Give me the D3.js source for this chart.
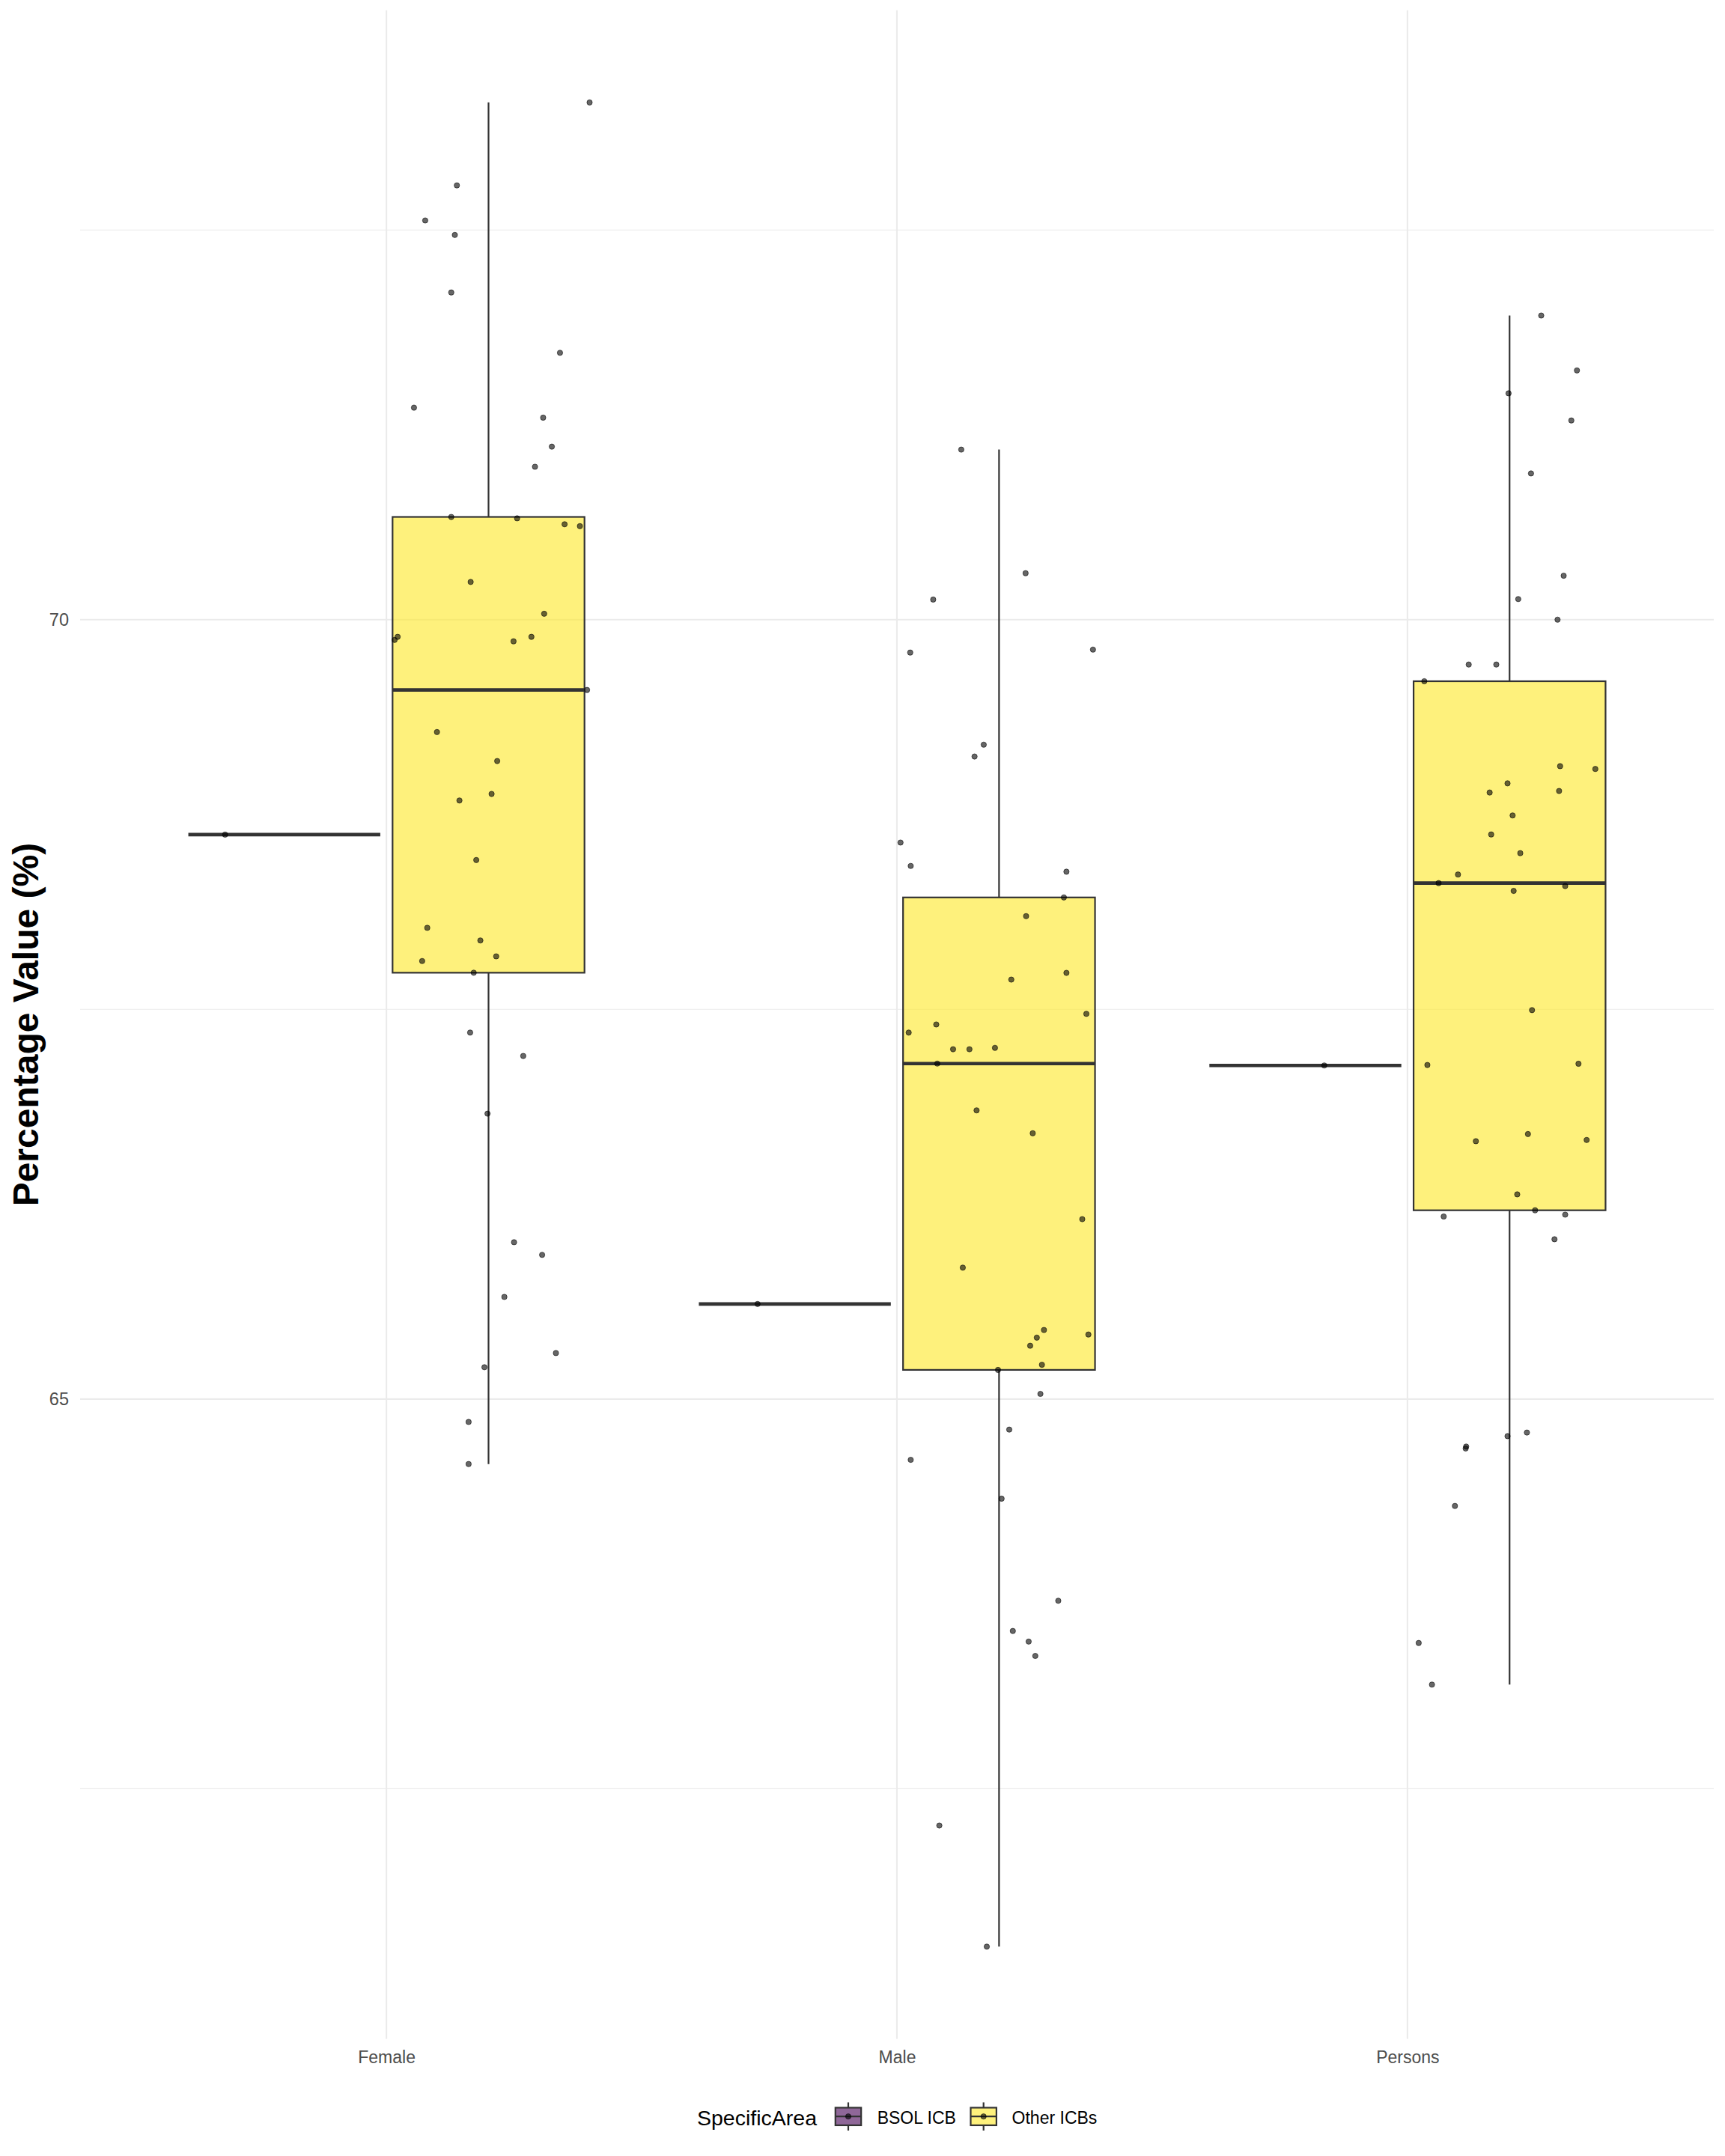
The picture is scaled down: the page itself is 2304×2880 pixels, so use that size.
<!DOCTYPE html>
<html>
<head>
<meta charset="utf-8">
<script src="https://cdn.jsdelivr.net/npm/d3@7"></script>
<style>
  html, body { margin: 0; padding: 0; background: #ffffff; }
  svg { display: block; }
</style>
</head>
<body>
<script>
// ---------------- DATA ----------------
const categories = ["Female", "Male", "Persons"];
const groups = ["BSOL ICB", "Other ICBs"];
const groupColors = ["#440154", "#FDE725"];
const yTicks = [65, 70];
const yMinorTicks = [62.5, 67.5, 72.5];

// BSOL ICB (one value per category) and its jitter offset (category units)
const bsolValues = [68.621, 65.610, 67.140];
const bsolJitter = [-0.116, -0.073, 0.037];

// Other ICBs
const femaleOther = [73.318, 72.786, 72.561, 72.468, 72.099, 71.712, 71.360, 71.296, 71.110, 70.981,
  70.659, 70.650, 70.612, 70.600, 70.242, 70.038, 69.890, 69.870, 69.861, 69.890,
  69.549, 69.279, 69.093, 68.882, 68.840, 68.458, 68.023, 67.942, 67.840, 67.810,
  67.735, 67.351, 67.201, 66.831, 66.006, 65.925, 65.655, 65.295, 65.204, 64.853, 64.583];
const femaleOtherJitter = [0.198, -0.062, -0.124, -0.066, -0.073, 0.140, -0.146, 0.107, 0.124, 0.091,
  -0.073, 0.056, 0.149, 0.179, -0.035, 0.109, -0.178, -0.184, 0.049, 0.084,
  0.193, -0.101, 0.017, 0.006, -0.057, -0.024, -0.120, -0.016, 0.015, -0.130,
  -0.029, -0.036, 0.068, -0.002, 0.050, 0.105, 0.031, 0.132, -0.008, -0.039, -0.039];

const maleOther = [71.091, 70.298, 70.129, 69.789, 69.808, 69.198, 69.122, 68.570, 68.420, 68.383,
  68.218, 68.098, 67.734, 67.691, 67.471, 67.403, 67.351, 67.244, 67.244, 67.253,
  67.152, 66.852, 66.705, 66.154, 65.843, 65.443, 65.414, 65.394, 65.342, 65.220,
  65.187, 65.033, 64.804, 64.610, 64.361, 63.706, 63.512, 63.444, 63.352, 62.264, 61.487];
const maleOtherJitter = [-0.074, 0.052, -0.129, -0.174, 0.184, -0.030, -0.048, -0.193, -0.173, 0.132,
  0.127, 0.053, 0.132, 0.024, 0.171, -0.123, -0.177, -0.090, -0.058, -0.008,
  -0.121, -0.044, 0.066, 0.163, -0.071, 0.088, 0.175, 0.074, 0.061, 0.084,
  -0.002, 0.081, 0.020, -0.173, 0.005, 0.116, 0.027, 0.058, 0.071, -0.117, -0.024];

const personsOther = [71.951, 71.599, 71.452, 71.278, 70.938, 70.282, 70.132, 70.000, 69.712, 69.712,
  69.605, 69.060, 69.042, 68.950, 68.891, 68.901, 68.744, 68.622, 68.502, 68.365,
  68.310, 68.291, 68.260, 67.495, 67.143, 67.151, 66.700, 66.654, 66.662, 66.313,
  66.211, 66.171, 66.183, 66.025, 64.785, 64.762, 64.695, 64.683, 64.314, 63.435, 63.168];
const personsOtherJitter = [0.062, 0.132, -0.002, 0.121, 0.042, 0.106, 0.017, 0.094, -0.080, -0.026,
  -0.167, 0.099, 0.168, -0.004, -0.039, 0.097, 0.006, -0.036, 0.021, -0.101,
  -0.139, 0.109, 0.008, 0.044, -0.161, 0.135, 0.036, -0.066, 0.151, 0.015,
  0.050, -0.129, 0.109, 0.088, 0.034, -0.004, -0.085, -0.086, -0.107, -0.178, -0.152];

// ---------------- BUILD ----------------
const otherValues = [femaleOther, maleOther, personsOther];
const otherJitter = [femaleOtherJitter, maleOtherJitter, personsOtherJitter];

const series = [];
categories.forEach((c, i) => {
  series.push({cat: c, group: 0, values: [bsolValues[i]], jitter: [bsolJitter[i]]});
  series.push({cat: c, group: 1, values: otherValues[i], jitter: otherJitter[i]});
});

const W = 2304, H = 2880;
const panel = {left: 107, right: 2289, top: 13.7, bottom: 2723.5};
const font = "'Liberation Sans', Arial, Helvetica, sans-serif";

const svg = d3.select("body").append("svg")
  .attr("width", W).attr("height", H)
  .attr("viewBox", `0 0 ${W} ${H}`);
svg.append("rect").attr("width", W).attr("height", H).attr("fill", "#ffffff");

const x = d3.scalePoint().domain(categories).range([panel.left, panel.right]).padding(0.6);
const step = x.step();

const allVals = series.flatMap(s => s.values);
const [vmin, vmax] = d3.extent(allVals);
const pad = (vmax - vmin) * 0.05;
const y = d3.scaleLinear().domain([vmin - pad, vmax + pad]).range([panel.bottom, panel.top]);

const dodge = [-0.2, 0.2];
const boxW = 0.376 * step;

// Grid
const grid = svg.append("g");
grid.selectAll("line.minor").data(yMinorTicks).join("line")
  .attr("x1", panel.left).attr("x2", panel.right)
  .attr("y1", d => y(d)).attr("y2", d => y(d))
  .attr("stroke", "#EBEBEB").attr("stroke-width", 1.1);
grid.selectAll("line.major").data(yTicks).join("line")
  .attr("x1", panel.left).attr("x2", panel.right)
  .attr("y1", d => y(d)).attr("y2", d => y(d))
  .attr("stroke", "#EBEBEB").attr("stroke-width", 2.1);
grid.selectAll("line.vx").data(categories).join("line")
  .attr("x1", d => x(d)).attr("x2", d => x(d))
  .attr("y1", panel.top).attr("y2", panel.bottom)
  .attr("stroke", "#EBEBEB").attr("stroke-width", 2.1);

// Boxplots
const boxes = svg.append("g");
series.forEach(s => {
  const sorted = s.values.slice().sort(d3.ascending);
  const q1 = d3.quantile(sorted, 0.25);
  const med = d3.quantile(sorted, 0.5);
  const q3 = d3.quantile(sorted, 0.75);
  const iqr = q3 - q1;
  const lo = d3.min(sorted.filter(v => v >= q1 - 1.5 * iqr));
  const hi = d3.max(sorted.filter(v => v <= q3 + 1.5 * iqr));
  const cx = x(s.cat) + dodge[s.group] * step;
  const g = boxes.append("g");
  g.append("line").attr("x1", cx).attr("x2", cx).attr("y1", y(q3)).attr("y2", y(hi))
    .attr("stroke", "#333333").attr("stroke-width", 2.2);
  g.append("line").attr("x1", cx).attr("x2", cx).attr("y1", y(q1)).attr("y2", y(lo))
    .attr("stroke", "#333333").attr("stroke-width", 2.2);
  g.append("rect")
    .attr("x", cx - boxW / 2).attr("width", boxW)
    .attr("y", y(q3)).attr("height", Math.max(0, y(q1) - y(q3)))
    .attr("fill", groupColors[s.group]).attr("fill-opacity", 0.6)
    .attr("stroke", "#333333").attr("stroke-width", 2.2);
  g.append("line").attr("x1", cx - boxW / 2).attr("x2", cx + boxW / 2)
    .attr("y1", y(med)).attr("y2", y(med))
    .attr("stroke", "#333333").attr("stroke-width", 4.6);
});

// Points
const pts = svg.append("g");
series.forEach(s => {
  const cx = x(s.cat) + dodge[s.group] * step;
  pts.selectAll(null).data(s.values.map((v, i) => ({v, j: s.jitter[i]}))).join("circle")
    .attr("cx", d => cx + d.j * step)
    .attr("cy", d => y(d.v))
    .attr("r", 3.6)
    .attr("fill", "#000").attr("fill-opacity", 0.6)
    .attr("stroke", "#000").attr("stroke-opacity", 0.55).attr("stroke-width", 1);
});

// Axes
const yAxis = svg.append("g")
  .attr("transform", `translate(${panel.left},0)`)
  .call(d3.axisLeft(y).tickValues(yTicks).tickSize(0).tickPadding(15).tickFormat(d3.format("d")));
yAxis.select(".domain").remove();
yAxis.selectAll("text").attr("font-family", font).attr("font-size", 23.5).attr("fill", "#4D4D4D");

const xAxis = svg.append("g")
  .attr("transform", `translate(0,${panel.bottom})`)
  .call(d3.axisBottom(x).tickSize(0).tickPadding(16));
xAxis.select(".domain").remove();
xAxis.selectAll("text").attr("font-family", font).attr("font-size", 23).attr("fill", "#4D4D4D");

// Y title
svg.append("text")
  .attr("transform", `translate(51,${(panel.top + panel.bottom) / 2}) rotate(-90)`)
  .attr("text-anchor", "middle")
  .attr("font-family", font).attr("font-size", 48).attr("font-weight", "bold")
  .attr("fill", "#000")
  .text("Percentage Value (%)");

// Legend
const leg = svg.append("g");
leg.append("text").attr("x", 931).attr("y", 2838.5)
  .attr("font-family", font).attr("font-size", 28.5).attr("fill", "#000")
  .text("SpecificArea");
const keyCenters = [1133, 1313.7];
const labelX = [1171.7, 1351.6];
const keyW = 43, keyH = 47, keyCy = 2827.2;
groups.forEach((gname, i) => {
  const kx = keyCenters[i];
  const k = leg.append("g");
  k.append("line").attr("x1", kx).attr("x2", kx)
    .attr("y1", keyCy - keyH * 0.4).attr("y2", keyCy + keyH * 0.4)
    .attr("stroke", "#333333").attr("stroke-width", 2.2);
  k.append("rect").attr("x", kx - keyW * 0.4).attr("width", keyW * 0.8)
    .attr("y", keyCy - keyH * 0.25).attr("height", keyH * 0.5)
    .attr("fill", "#ffffff");
  k.append("rect").attr("x", kx - keyW * 0.4).attr("width", keyW * 0.8)
    .attr("y", keyCy - keyH * 0.25).attr("height", keyH * 0.5)
    .attr("fill", groupColors[i]).attr("fill-opacity", 0.6)
    .attr("stroke", "#333333").attr("stroke-width", 2.2);
  k.append("line").attr("x1", kx - keyW * 0.4).attr("x2", kx + keyW * 0.4)
    .attr("y1", keyCy).attr("y2", keyCy)
    .attr("stroke", "#333333").attr("stroke-width", 2.2);
  k.append("circle").attr("cx", kx).attr("cy", keyCy).attr("r", 3.6)
    .attr("fill", "#000").attr("fill-opacity", 0.6)
    .attr("stroke", "#000").attr("stroke-opacity", 0.55).attr("stroke-width", 1);
  leg.append("text").attr("x", labelX[i]).attr("y", 2836.7)
    .attr("font-family", font).attr("font-size", 23).attr("fill", "#000")
    .text(gname);
});
</script>
</body>
</html>
